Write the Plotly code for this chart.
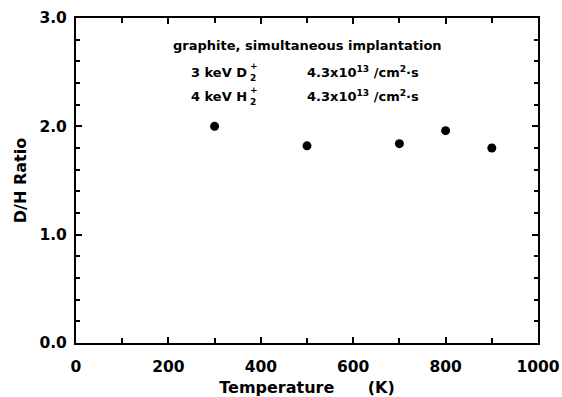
import plotly.graph_objects as go

temperature = [300, 500, 700, 800, 900]
dh_ratio = [2.00, 1.82, 1.84, 1.96, 1.80]

x_ticks = [0, 200, 400, 600, 800, 1000]
x_labels = ["0", "200", "400", "600", "800", "1000"]
y_ticks = [0.0, 1.0, 2.0, 3.0]
y_labels = ["0.0", "1.0", "2.0", "3.0"]

FONT = "DejaVu Sans, Liberation Sans, Arial, sans-serif"
W, H = 562, 397
ML, MR, MT, MB = 76, 24, 18, 54

fig = go.Figure()
fig.add_trace(go.Scatter(
    x=temperature, y=dh_ratio, mode="markers",
    marker=dict(color="black", size=9),
    showlegend=False,
))

axis_common = dict(
    showline=True, linecolor="black", linewidth=2, mirror="ticks",
    ticks="inside", ticklen=6, tickwidth=1.5, tickcolor="black",
    showgrid=False, zeroline=False, automargin=False,
    tickfont=dict(family=FONT, size=15.5, color="black", weight="bold"),
)

fig.update_xaxes(
    range=[0, 1000], tickvals=x_ticks, ticktext=x_labels,
    minor=dict(dtick=100, ticks="inside", ticklen=5, tickcolor="black"),
    ticklabelstandoff=8,
    title=dict(text="Temperature      (K)", standoff=9,
               font=dict(family=FONT, size=16, color="black", weight="bold")),
    **axis_common,
)
fig.update_yaxes(
    range=[0, 3.0], tickvals=y_ticks, ticktext=y_labels,
    minor=dict(dtick=0.2, ticks="inside", ticklen=4, tickcolor="black"),
    ticklabelstandoff=4,
    title=dict(text="D/H Ratio", standoff=9,
               font=dict(family=FONT, size=16, color="black", weight="bold")),
    **axis_common,
)


def px(xp):
    return (xp - ML) / (W - ML - MR)


def py(yp):
    return (H - MB - yp) / (H - MT - MB)


ann_font = dict(family=FONT, size=13, color="black", weight="bold")
small_font = dict(family=FONT, size=9, color="black", weight="bold")


def ann(x, y, text, font, anchor="left"):
    fig.add_annotation(x=px(x), y=py(y), xref="paper", yref="paper",
                       showarrow=False, text=text, font=font,
                       xanchor=anchor, yanchor="middle")


ann(307, 46, "graphite, simultaneous implantation", ann_font, "center")
for yline, ion in [(72, "3 keV D"), (96, "4 keV H")]:
    ann(249, yline, ion, ann_font, "right")
    ann(248, yline + 6, "2", small_font)
    ann(248, yline - 6, "+", small_font)
    ann(305, yline, "4.3x10<sup>13</sup> /cm<sup>2</sup>·s", ann_font)

fig.update_layout(
    width=W, height=H,
    margin=dict(l=ML, r=MR, t=MT, b=MB),
    plot_bgcolor="white", paper_bgcolor="white",
    font=dict(family=FONT, color="black"),
)

fig.write_html("out.html", post_script="document.body.style.margin='0';",
               config=dict(displayModeBar=False))
